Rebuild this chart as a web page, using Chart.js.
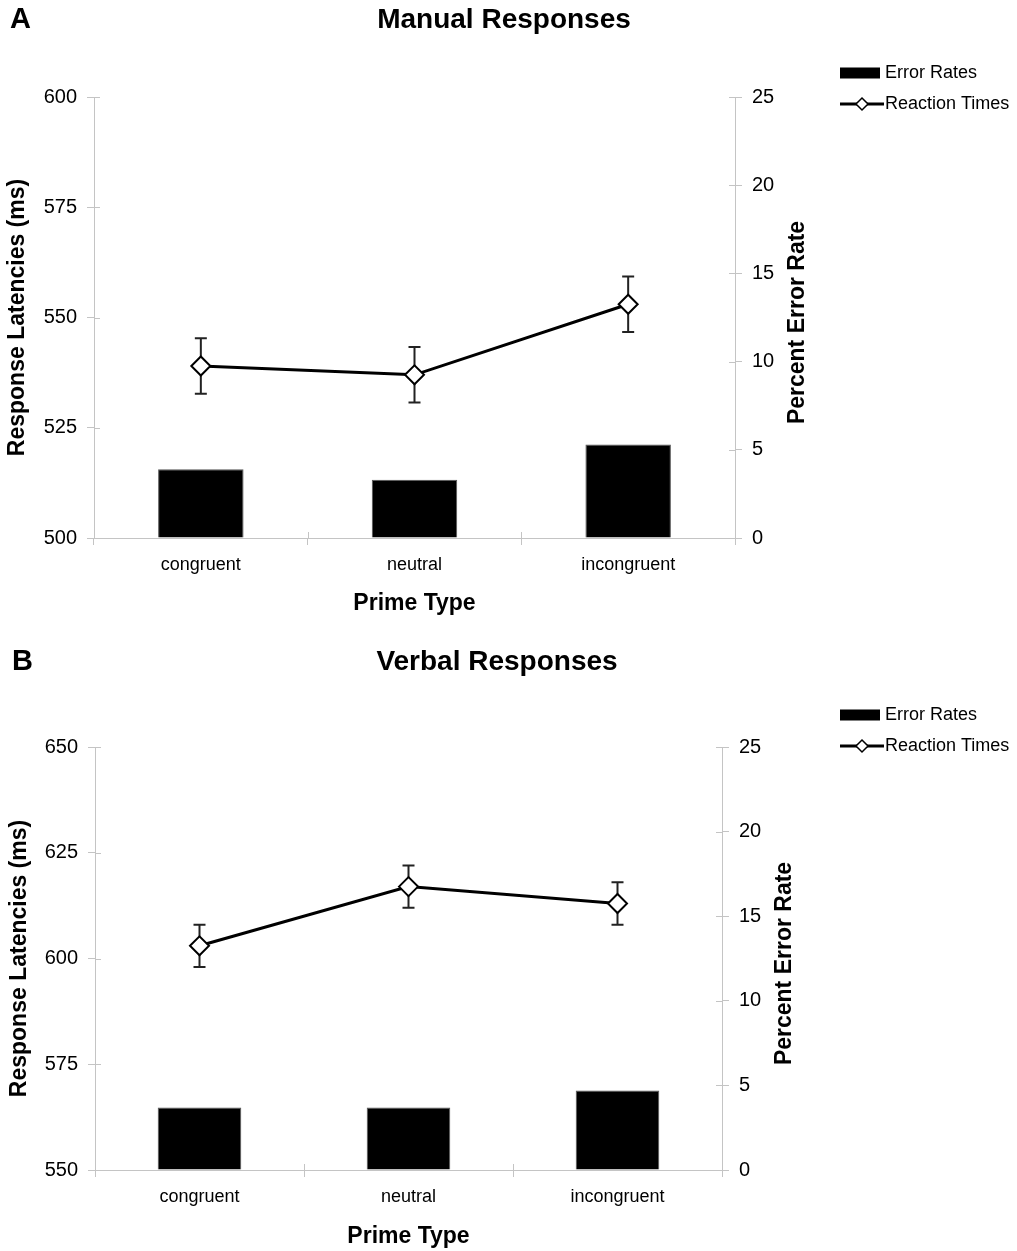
<!DOCTYPE html>
<html>
<head>
<meta charset="utf-8">
<script src="https://cdn.jsdelivr.net/npm/chart.js@4.4.1/dist/chart.umd.min.js"></script>
<style>
html, body { margin: 0; padding: 0; background: #fff; }
canvas { display: block; }
</style>
</head>
<body>
<canvas id="manual" width="1017" height="642"></canvas>
<canvas id="verbal" width="1017" height="609"></canvas>
<script>
const categories = ['congruent', 'neutral', 'incongruent'];

// panel A - manual responses
const manualRT = [539, 537, 553];
const manualRTErr = [6.3, 6.3, 6.3];
const manualErrorRate = [3.9, 3.3, 5.3];
const manualLatencyTicks = [500, 525, 550, 575, 600];

// panel B - verbal responses
const verbalRT = [603, 617, 613];
const verbalRTErr = [5, 5, 5];
const verbalErrorRate = [3.7, 3.7, 4.7];
const verbalLatencyTicks = [550, 575, 600, 625, 650];

const errorRateTicks = [0, 5, 10, 15, 20, 25];

const FONT = "'Liberation Sans', Arial, sans-serif";
const AXIS_GREY = '#c4c4c4';

// error bars, inner tick halves, panel letter, legend and right axis title
const decor = {
    id: 'decor',
    beforeDatasetDraw(chart, args) {
        if (args.meta.type !== 'line') return;
        let ds = chart.data.datasets[args.index];
        let y = chart.scales.y;
        let ctx = chart.ctx;
        ctx.save();
        ctx.strokeStyle = '#222';
        ctx.lineWidth = 2;
        args.meta.data.forEach(function (pt, i) {
            let top = y.getPixelForValue(ds.data[i] + ds.errors[i]);
            let bot = y.getPixelForValue(ds.data[i] - ds.errors[i]);
            ctx.beginPath();
            ctx.moveTo(pt.x, top); ctx.lineTo(pt.x, bot);
            ctx.moveTo(pt.x - 6, top); ctx.lineTo(pt.x + 6, top);
            ctx.moveTo(pt.x - 6, bot); ctx.lineTo(pt.x + 6, bot);
            ctx.stroke();
        });
        ctx.restore();
    },
    beforeDatasetsDraw(chart) {
        // ticks in the reference cross their axis; draw the inner half
        let ctx = chart.ctx;
        let area = chart.chartArea;
        let s = chart.scales;
        ctx.save();
        ctx.strokeStyle = AXIS_GREY;
        ctx.lineWidth = 1;
        ctx.beginPath();
        s.y.ticks.forEach(function (t) {
            let py = Math.round(s.y.getPixelForValue(t.value)) + 0.5;
            ctx.moveTo(area.left, py); ctx.lineTo(area.left + 6, py);
        });
        s.y1.ticks.forEach(function (t) {
            let py = Math.round(s.y1.getPixelForValue(t.value)) + 0.5;
            ctx.moveTo(area.right, py); ctx.lineTo(area.right - 6, py);
        });
        for (let i = 1; i < categories.length; i++) {
            let px = Math.round(s.x.getPixelForValue(i - 0.5)) + 0.5;
            ctx.moveTo(px, area.bottom); ctx.lineTo(px, area.bottom - 6);
        }
        ctx.stroke();
        ctx.restore();
    },
    afterDraw(chart, args, opts) {
        let ctx = chart.ctx;
        ctx.save();
        ctx.fillStyle = '#000';

        // panel letter
        ctx.font = 'bold 29px ' + FONT;
        ctx.textBaseline = 'middle';
        ctx.textAlign = 'left';
        ctx.fillText(opts.letter, opts.letterX, 20);

        // legend
        ctx.font = '18px ' + FONT;
        let lx = 840;
        chart.data.datasets.forEach(function (ds, i) {
            let ly = 73 + i * 31;
            if (ds.type === 'bar') {
                ctx.fillStyle = '#000';
                ctx.fillRect(lx, ly - 5.5, 40, 11);
            } else {
                ctx.strokeStyle = '#000';
                ctx.lineWidth = 3;
                ctx.beginPath();
                ctx.moveTo(lx, ly); ctx.lineTo(lx + 44, ly);
                ctx.stroke();
                ctx.fillStyle = '#fff';
                ctx.lineWidth = 1.5;
                ctx.beginPath();
                ctx.moveTo(lx + 22, ly - 6); ctx.lineTo(lx + 28, ly);
                ctx.lineTo(lx + 22, ly + 6); ctx.lineTo(lx + 16, ly);
                ctx.closePath();
                ctx.fill(); ctx.stroke();
            }
            ctx.fillStyle = '#000';
            ctx.fillText(ds.label, lx + 45, ly);
        });

        // right axis title, reading bottom to top
        let area = chart.chartArea;
        ctx.font = 'bold 23px ' + FONT;
        ctx.textAlign = 'center';
        ctx.translate(area.right + opts.rightTitleOffset, (area.top + area.bottom) / 2 + 5);
        ctx.rotate(-Math.PI / 2);
        ctx.fillText('Percent Error Rate', 0, 0);
        ctx.restore();
    }
};

function makeChart(id, p) {
    const el = document.getElementById(id);
    return new Chart(el, {
        data: {
            labels: categories,
            datasets: [{
                type: 'bar',
                label: 'Error Rates',
                data: p.rates,
                yAxisID: 'y1',
                backgroundColor: '#000',
                borderColor: '#555',
                borderWidth: 1,
                categoryPercentage: 1.0,
                barPercentage: 0.40,
                order: 1
            }, {
                type: 'line',
                label: 'Reaction Times',
                data: p.rt,
                errors: p.err,
                yAxisID: 'y',
                borderColor: '#000',
                borderWidth: 3,
                pointStyle: 'rectRot',
                pointRadius: 9.5,
                pointBorderWidth: 2,
                pointBackgroundColor: '#fff',
                pointBorderColor: '#000',
                order: 0
            }]
        },
        options: {
            responsive: false,
            animation: false,
            layout: { padding: { left: 0, right: p.padRight, top: 0, bottom: p.padBottom } },
            plugins: {
                legend: { display: false },
                tooltip: { enabled: false },
                title: {
                    display: true,
                    text: p.title,
                    color: '#000',
                    font: { family: FONT, size: 28, weight: 'bold', lineHeight: 1.2 },
                    padding: { top: 3, bottom: p.titleGap }
                },
                decor: { letter: p.letter, letterX: p.letterX, rightTitleOffset: p.rightTitleOffset }
            },
            scales: {
                x: {
                    offset: true,
                    afterFit: function (s) { s.height = 80; },
                    grid: { display: true, drawOnChartArea: false, tickLength: 7, color: AXIS_GREY, offset: true },
                    border: { color: AXIS_GREY, width: 1 },
                    ticks: { color: '#000', padding: 9, font: { family: FONT, size: 18 } },
                    title: {
                        display: true, text: 'Prime Type', color: '#000',
                        font: { family: FONT, size: 23, weight: 'bold' },
                        padding: { top: 0, bottom: p.xTitlePad }
                    }
                },
                y: {
                    position: 'left',
                    min: p.ticks[0],
                    max: p.ticks[p.ticks.length - 1],
                    afterFit: function (s) { s.width = p.leftWidth; },
                    afterBuildTicks: function (s) { s.ticks = p.ticks.map(v => ({ value: v })); },
                    grid: { drawOnChartArea: false, tickLength: 7, color: AXIS_GREY },
                    border: { color: AXIS_GREY, width: 1 },
                    ticks: { color: '#000', padding: 10, font: { family: FONT, size: 20 } },
                    title: {
                        display: true, text: 'Response Latencies (ms)', color: '#000',
                        font: { family: FONT, size: 23, weight: 'bold' },
                        padding: { top: p.leftTitlePad, bottom: 0 }
                    }
                },
                y1: {
                    position: 'right',
                    min: 0,
                    max: 25,
                    afterFit: function (s) { s.width = p.rightWidth; },
                    afterBuildTicks: function (s) { s.ticks = errorRateTicks.map(v => ({ value: v })); },
                    grid: { drawOnChartArea: false, tickLength: 7, color: AXIS_GREY },
                    border: { color: AXIS_GREY, width: 1 },
                    ticks: { color: '#000', padding: p.rightTickPad, font: { family: FONT, size: 20 } }
                }
            }
        },
        plugins: [decor]
    });
}

const manualChart = makeChart('manual', {
    title: 'Manual Responses', letter: 'A', letterX: 10,
    rt: manualRT, err: manualRTErr, rates: manualErrorRate, ticks: manualLatencyTicks,
    padRight: 9, padBottom: 24, titleGap: 60.4, xTitlePad: 1,
    leftWidth: 94, rightWidth: 1017 - 9 - 735, leftTitlePad: 4,
    rightTickPad: 10, rightTitleOffset: 63
});

const verbalChart = makeChart('verbal', {
    title: 'Verbal Responses', letter: 'B', letterX: 12,
    rt: verbalRT, err: verbalRTErr, rates: verbalErrorRate, ticks: verbalLatencyTicks,
    padRight: 23, padBottom: 1, titleGap: 68.4, xTitlePad: 0,
    leftWidth: 95, rightWidth: 1017 - 23 - 722, leftTitlePad: 6,
    rightTickPad: 10, rightTitleOffset: 63
});
</script>
</body>
</html>
